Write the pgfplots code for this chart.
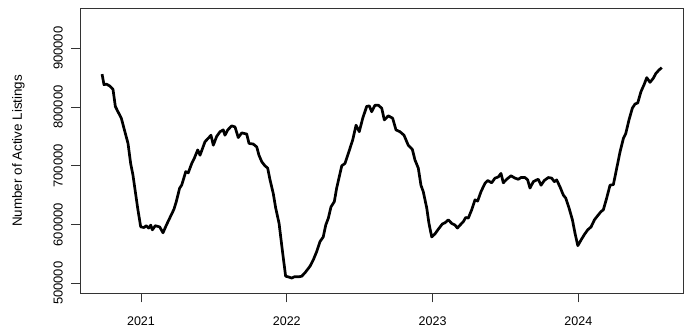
\documentclass[border=0pt]{standalone}
\usepackage{pgfplots}
\pgfplotsset{compat=1.18}
\usepackage{fontspec}
\setmainfont{Liberation Sans}
\begin{document}
\begin{tikzpicture}
\useasboundingbox (0,0) rectangle (687pt,331pt);
\begin{axis}[
  at={(80pt,37.7pt)}, anchor=south west,
  scale only axis, width=603.3pt, height=285pt,
  xmin=2020.5816, xmax=2024.7196,
  ymin=483000, ymax=968000,
  xtick={2021,2022,2023,2024},
  ytick={500000,600000,700000,800000,900000},
  scaled x ticks=false, scaled y ticks=false,
  /pgf/number format/assume math mode=true,
  xticklabel={\pgfmathprintnumber[fixed,precision=0,1000 sep={}]{\tick}},
  yticklabel={\pgfmathprintnumber[fixed,precision=0,1000 sep={}]{\tick}},
  xtick pos=left, ytick pos=left,
  tick align=outside, major tick length=9pt,
  every tick/.style={black!80, line width=0.8pt},
  axis line style={black!80, line width=0.8pt},
  xticklabel style={font=\fontsize{12.5}{14}\selectfont, anchor=north, inner sep=0pt, yshift=-14pt},
  yticklabel style={font=\fontsize{13}{15}\selectfont, xshift=-8pt, rotate=90, anchor=south, inner sep=0pt},
  ylabel={Number of Active Listings},
  every axis y label/.style={at={(axis description cs:0,0.5)}, xshift=-61.5pt, rotate=90, anchor=center, font=\fontsize{13.4}{15}\selectfont, inner sep=0pt},
]
\addplot[black, line width=2.7pt, line join=round] coordinates {
(2020.733,856000)(2020.746,838000)(2020.762,839000)(2020.785,836000)(2020.808,830000)
(2020.824,801000)(2020.842,792000)(2020.865,781000)(2020.883,764000)(2020.911,738000)
(2020.929,704000)(2020.945,684000)(2020.961,656000)(2020.979,625000)(2020.998,596000)
(2021.021,595000)(2021.036,598000)(2021.053,594000)(2021.067,599000)(2021.078,591000)
(2021.098,598000)(2021.128,596000)(2021.151,586000)(2021.174,599000)(2021.197,611000)
(2021.226,626000)(2021.242,639000)(2021.265,662000)(2021.279,667000)(2021.307,690000)
(2021.324,688000)(2021.348,704000)(2021.366,713000)(2021.389,727000)(2021.405,718000)
(2021.439,741000)(2021.462,747000)(2021.480,752000)(2021.496,735000)(2021.519,750000)
(2021.542,758000)(2021.564,761000)(2021.576,752000)(2021.595,761000)(2021.622,768000)
(2021.645,766000)(2021.667,748000)(2021.691,756000)(2021.725,754000)(2021.741,738000)
(2021.770,737000)(2021.794,732000)(2021.809,718000)(2021.828,707000)(2021.850,700000)
(2021.869,696000)(2021.885,676000)(2021.907,653000)(2021.924,628000)(2021.947,602000)
(2021.969,557000)(2021.992,512000)(2022.010,511000)(2022.034,509000)(2022.051,511000)
(2022.079,511000)(2022.102,512000)(2022.125,518000)(2022.159,529000)(2022.182,540000)
(2022.205,554000)(2022.228,571000)(2022.250,579000)(2022.267,599000)(2022.285,611000)
(2022.303,630000)(2022.326,639000)(2022.342,662000)(2022.377,700000)(2022.399,704000)
(2022.422,721000)(2022.452,744000)(2022.475,769000)(2022.497,758000)(2022.521,781000)
(2022.548,801000)(2022.566,802000)(2022.582,792000)(2022.605,803000)(2022.628,803000)
(2022.651,798000)(2022.669,778000)(2022.696,785000)(2022.726,781000)(2022.749,761000)
(2022.776,758000)(2022.804,752000)(2022.833,735000)(2022.861,728000)(2022.879,710000)
(2022.902,696000)(2022.920,667000)(2022.936,656000)(2022.960,628000)(2022.975,602000)
(2022.994,579000)(2023.016,584000)(2023.039,592000)(2023.067,601000)(2023.085,603000)
(2023.108,608000)(2023.131,602000)(2023.154,599000)(2023.170,594000)(2023.188,599000)
(2023.211,605000)(2023.227,612000)(2023.245,611000)(2023.268,625000)(2023.291,642000)
(2023.309,640000)(2023.332,656000)(2023.359,670000)(2023.378,675000)(2023.405,671000)
(2023.428,679000)(2023.451,681000)(2023.469,687000)(2023.485,671000)(2023.508,677000)
(2023.538,683000)(2023.565,679000)(2023.588,677000)(2023.606,680000)(2023.634,680000)
(2023.652,676000)(2023.668,662000)(2023.691,673000)(2023.714,676000)(2023.725,677000)
(2023.744,667000)(2023.766,675000)(2023.794,680000)(2023.817,679000)(2023.835,673000)
(2023.851,676000)(2023.874,664000)(2023.897,650000)(2023.913,645000)(2023.936,628000)
(2023.959,608000)(2023.977,585000)(2023.996,564000)(2024.019,574000)(2024.041,583000)
(2024.064,591000)(2024.087,596000)(2024.110,608000)(2024.132,615000)(2024.155,622000)
(2024.171,625000)(2024.194,645000)(2024.217,667000)(2024.240,668000)(2024.263,696000)
(2024.286,724000)(2024.309,747000)(2024.325,755000)(2024.347,778000)(2024.370,798000)
(2024.388,805000)(2024.407,807000)(2024.429,826000)(2024.452,839000)(2024.469,850000)
(2024.491,842000)(2024.514,849000)(2024.531,857000)(2024.553,863000)(2024.572,867000)
};
\end{axis}
\end{tikzpicture}
\end{document}
